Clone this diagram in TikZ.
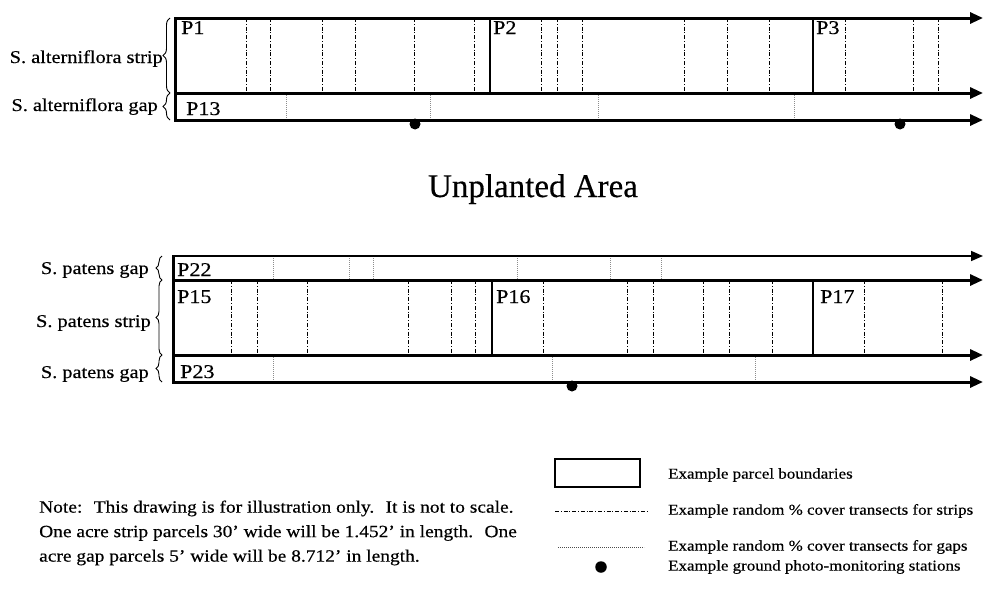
\documentclass[tikz,border=0pt]{standalone}
\usepackage{fontspec}
\setmainfont{Liberation Serif}[FakeStretch=1.13,FakeBold=0.4]
\newfontfamily\plainfont{Liberation Serif}[FakeBold=0.4]
\usetikzlibrary{arrows.meta,decorations.pathreplacing}
\begin{document}
\begin{tikzpicture}[x=1pt,y=-1pt,
  edge/.style={line width=3pt,line cap=rect},
  divider/.style={line width=2.2pt},
  axis/.style={line width=3pt,-{Triangle[length=13pt,width=11pt]}},
  thinaxis/.style={line width=1.6pt,-{Triangle[length=12pt,width=10pt]}},
  striptr/.style={line width=0.9pt,dash pattern=on 4pt off 1.8pt on 1pt off 1.8pt},
  gaptr/.style={line width=0.8pt,black!45,dash pattern=on 0.8pt off 1.2pt},
  station/.style={circle,fill=black,inner sep=0pt,minimum size=11pt},
  brc/.style={decorate,decoration={brace,amplitude=7pt},line width=0.9pt},
  lab/.style={anchor=base east,inner sep=0pt,font=\fontsize{18}{20}\selectfont},
  plab/.style={anchor=base west,inner sep=0pt,font=\fontsize{19.5}{21}\selectfont},
  legtext/.style={anchor=west,inner sep=0pt,font=\fontsize{15}{17}\selectfont},
  legbox/.style={draw,line width=2.2pt,minimum width=85pt,minimum height=28pt,inner sep=0pt}]
\useasboundingbox (0,0) rectangle (990,605);

% ---------- top section: S. alterniflora ----------
\coordinate (tL1) at (175,18);  \coordinate (tR1) at (983,18);
\coordinate (tL2) at (175,93);  \coordinate (tR2) at (983,93);
\coordinate (tL3) at (175,120); \coordinate (tR3) at (983,120);
\foreach \x in {246,270,322,355,414,474,541,557,582,684,727,769,845,913,938}
  \draw[striptr] (\x,18) -- (\x,93);
\foreach \x in {286,430,598,794}
  \draw[gaptr] (\x,93) -- (\x,120);
\draw[axis] (tL1) -- (tR1);
\draw[axis] (tL2) -- (tR2);
\draw[axis] (tL3) -- (tR3);
\draw[edge] (tL1) -- (tL3);
\coordinate (d2a) at (490,18); \coordinate (d2b) at (490,93);
\coordinate (d3a) at (813,18); \coordinate (d3b) at (813,93);
\draw[divider] (d2a) -- (d2b);
\draw[divider] (d3a) -- (d3b);
\node[plab] (P1) at (181,34) {P1};
\node[plab] (P2) at (493,34) {P2};
\node[plab] (P3) at (816,34) {P3};
\node[plab] (P13) at (186,115) {P13};
\node[station] (st1) at (415,124) {};
\node[station] (st2) at (900,124) {};
\coordinate (bA1) at (170,93); \coordinate (bA2) at (170,18); \coordinate (bA3) at (170,120);
\draw[brc] (bA1) -- (bA2);
\draw[brc] (bA3) -- (bA1);
\node[lab] (la1) at (163,63) {S. alterniflora strip};
\node[lab] (la2) at (158,111) {S. alterniflora gap};

% ---------- title ----------
\node[anchor=base,inner sep=0pt,font=\plainfont\fontsize{33}{36}\selectfont] (title) at (533,197) {Unplanted Area};

% ---------- bottom section: S. patens ----------
\coordinate (uL0) at (173,256); \coordinate (uR0) at (983,256);
\coordinate (uL1) at (173,280); \coordinate (uR1) at (983,280);
\coordinate (uL2) at (173,355); \coordinate (uR2) at (983,355);
\coordinate (uL3) at (173,382); \coordinate (uR3) at (983,382);
\foreach \x in {231,257,307,408,451,475,543,627,653,703,729,772,864,942}
  \draw[striptr] (\x,280) -- (\x,355);
\foreach \x in {273,349,373,517,610,661}
  \draw[gaptr] (\x,256) -- (\x,280);
\foreach \x in {273,552,755}
  \draw[gaptr] (\x,355) -- (\x,382);
\draw[thinaxis] (uL0) -- (uR0);
\draw[axis] (uL1) -- (uR1);
\draw[axis] (uL2) -- (uR2);
\draw[axis] (uL3) -- (uR3);
\draw[edge] (uL0) -- (uL3);
\coordinate (e2a) at (492,280); \coordinate (e2b) at (492,355);
\coordinate (e3a) at (813,280); \coordinate (e3b) at (813,355);
\draw[divider] (e2a) -- (e2b);
\draw[divider] (e3a) -- (e3b);
\node[plab] (P22) at (177,276) {P22};
\node[plab] (P15) at (177,303) {P15};
\node[plab] (P16) at (496,303) {P16};
\node[plab] (P17) at (820,303) {P17};
\node[plab] (P23) at (180,378) {P23};
\node[station] (st3) at (572,386) {};
\coordinate (bB0) at (162,256); \coordinate (bB1) at (162,280);
\coordinate (bB2) at (162,355); \coordinate (bB3) at (162,382);
\draw[brc,decoration={brace,amplitude=6pt}] (bB1) -- (bB0);
\draw[brc,decoration={brace,amplitude=6pt}] (bB2) -- (bB1);
\draw[brc,decoration={brace,amplitude=6pt}] (bB3) -- (bB2);
\node[lab] (lb1) at (149,274) {S. patens gap};
\node[lab] (lb2) at (151,327) {S. patens strip};
\node[lab] (lb3) at (149,378) {S. patens gap};

% ---------- legend ----------
\node[legbox] (box) at (597.5,473) {};
\node[legtext] (lt1) at (668,475) {Example parcel boundaries};
\coordinate (ls1) at (555,511); \coordinate (ls2) at (647,511);
\draw[striptr] (ls1) -- (ls2);
\node[legtext] (lt2) at (668,511) {Example random \% cover transects for strips};
\coordinate (lg1) at (558,547); \coordinate (lg2) at (644,547);
\draw[gaptr,black!70] (lg1) -- (lg2);
\node[legtext] (lt3) at (668,547) {Example random \% cover transects for gaps};
\node[station,minimum size=11.5pt] (lst) at (601,567) {};
\node[legtext] (lt4) at (668,567) {Example ground photo-monitoring stations};

% ---------- note ----------
\node[anchor=north west,inner sep=0pt,align=left,font=\fontsize{17.2}{24.5}\selectfont] (note) at (39,500.3)
  {Note:~ This drawing is for illustration only.~ It is not to scale.\\
   One acre strip parcels 30' wide will be 1.452' in length.~ One\\
   acre gap parcels 5' wide will be 8.712' in length.};
\end{tikzpicture}
\end{document}
